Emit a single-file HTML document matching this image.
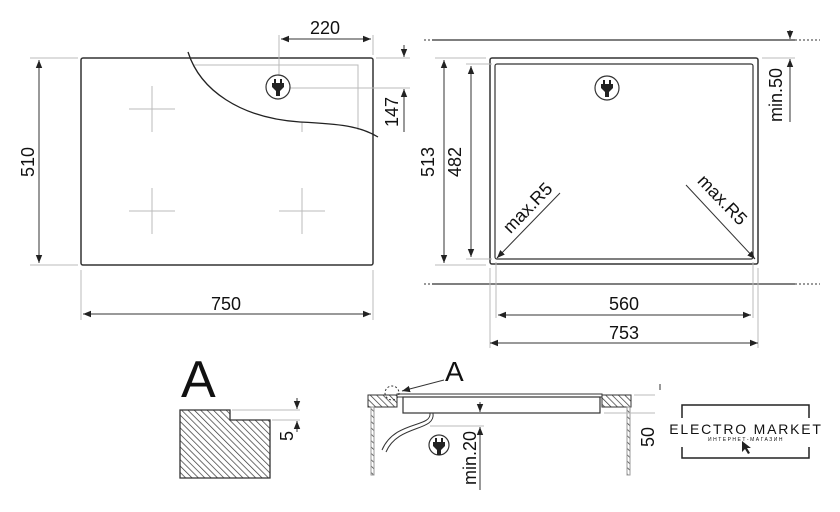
<!DOCTYPE html>
<html><head><meta charset="utf-8"><style>
html,body{margin:0;padding:0;background:#fff;}
svg{display:block;font-family:"Liberation Sans",sans-serif;}
</style></head><body>
<svg width="840" height="512" viewBox="0 0 840 512" xmlns="http://www.w3.org/2000/svg">
<defs>
<marker id="a" viewBox="0 0 10 10" refX="10" refY="5" markerWidth="8" markerHeight="8" orient="auto-start-reverse" markerUnits="userSpaceOnUse"><path d="M0,1 L10,5 L0,9 z" fill="#222"/></marker>
<pattern id="h" width="4.5" height="4.5" patternUnits="userSpaceOnUse" patternTransform="rotate(-45)"><line x1="0" y1="0" x2="0" y2="4.5" stroke="#333" stroke-width="1.4"/></pattern>
</defs>
<g fill="none" stroke="#333" stroke-width="1">
<rect x="81" y="58" width="292" height="207" rx="2" stroke-width="1.5"/>
<g stroke="#bbb">
<polyline points="193,65 358,65 358,130"/>
<line x1="129" y1="109" x2="175" y2="109"/><line x1="152" y1="86" x2="152" y2="132"/>
<line x1="129" y1="211" x2="175" y2="211"/><line x1="152" y1="188" x2="152" y2="234"/>
<line x1="279" y1="211" x2="325" y2="211"/><line x1="302" y1="188" x2="302" y2="234"/>
<line x1="302" y1="122" x2="302" y2="132"/>
<line x1="30" y1="58" x2="78" y2="58"/><line x1="30" y1="265" x2="78" y2="265"/>
<line x1="81" y1="270" x2="81" y2="320"/><line x1="373" y1="270" x2="373" y2="320"/>
<line x1="279" y1="35" x2="279" y2="76"/><line x1="373" y1="35" x2="373" y2="55"/>
<line x1="376" y1="58" x2="410" y2="58"/><line x1="290" y1="88" x2="410" y2="88"/>
</g>
<path d="M188,52 C200,90 240,118 300,122 C340,124 360,126 378,137" stroke="#222" stroke-width="1.3"/>
<line x1="39" y1="60" x2="39" y2="263" marker-start="url(#a)" marker-end="url(#a)"/>
<line x1="83" y1="314" x2="371" y2="314" marker-start="url(#a)" marker-end="url(#a)"/>
<line x1="281" y1="39" x2="371" y2="39" marker-start="url(#a)" marker-end="url(#a)"/>
<line x1="404" y1="45" x2="404" y2="57" marker-end="url(#a)"/>
<line x1="404" y1="132" x2="404" y2="89" marker-end="url(#a)"/>
<circle cx="278" cy="87" r="12" stroke-width="1.2"/>
<rect x="490" y="58" width="268" height="206" rx="2" stroke-width="1.5"/>
<rect x="495" y="64" width="258" height="195" rx="2" stroke-width="1.2"/>
<line x1="432" y1="40" x2="795" y2="40" stroke-width="1.2"/>
<line x1="432" y1="284" x2="795" y2="284" stroke-width="1.2"/>
<line x1="424" y1="40" x2="432" y2="40" stroke-dasharray="2,2"/><line x1="795" y1="40" x2="820" y2="40" stroke-dasharray="2,2"/>
<line x1="424" y1="284" x2="432" y2="284" stroke-dasharray="2,2"/><line x1="795" y1="284" x2="820" y2="284" stroke-dasharray="2,2"/>
<g stroke="#bbb">
<line x1="435" y1="58" x2="486" y2="58"/><line x1="435" y1="265" x2="486" y2="265"/>
<line x1="466" y1="64" x2="492" y2="64"/><line x1="466" y1="259" x2="492" y2="259"/>
<line x1="490" y1="268" x2="490" y2="348"/><line x1="758" y1="268" x2="758" y2="348"/>
<line x1="496" y1="262" x2="496" y2="318"/><line x1="753" y1="262" x2="753" y2="318"/>
<line x1="762" y1="58" x2="795" y2="58"/>
</g>
<line x1="444" y1="60" x2="444" y2="263" marker-start="url(#a)" marker-end="url(#a)"/>
<line x1="471" y1="66" x2="471" y2="257" marker-start="url(#a)" marker-end="url(#a)"/>
<line x1="790" y1="30" x2="790" y2="39" marker-end="url(#a)"/>
<line x1="790" y1="122" x2="790" y2="59" marker-end="url(#a)"/>
<line x1="498" y1="315" x2="751" y2="315" marker-start="url(#a)" marker-end="url(#a)"/>
<line x1="490" y1="343" x2="758" y2="343" marker-start="url(#a)" marker-end="url(#a)"/>
<line x1="560" y1="193" x2="497" y2="258" marker-end="url(#a)"/>
<line x1="686" y1="185" x2="755" y2="259" marker-end="url(#a)"/>
<circle cx="607" cy="88" r="12" stroke-width="1.2"/>
<path d="M180,410 L230,410 L230,420 L270,420 L270,478 L180,478 Z" fill="url(#h)" stroke-width="1.3"/>
<g stroke="#bbb"><line x1="232" y1="410" x2="300" y2="410"/><line x1="272" y1="420" x2="300" y2="420"/></g>
<line x1="297" y1="398" x2="297" y2="409" marker-end="url(#a)"/>
<line x1="297" y1="432" x2="297" y2="421" marker-end="url(#a)"/>
<rect x="368" y="395" width="29" height="12" fill="url(#h)"/>
<rect x="602" y="395" width="29" height="12" fill="url(#h)"/>
<rect x="397" y="394" width="205" height="3"/>
<rect x="403" y="397" width="197" height="16" stroke-width="1.2"/>
<rect x="371" y="407" width="3" height="68" fill="url(#h)" stroke="#999"/>
<rect x="627" y="407" width="3" height="68" fill="url(#h)" stroke="#999"/>
<path d="M430,413 C432,428 395,420 382,450" /><path d="M433,413 C436,432 398,424 386,452"/>
<g stroke="#bbb"><line x1="634" y1="395" x2="655" y2="395"/><line x1="604" y1="413" x2="655" y2="413"/><line x1="430" y1="426" x2="484" y2="426"/></g>
<line x1="480" y1="402" x2="480" y2="412" marker-end="url(#a)"/>
<line x1="480" y1="490" x2="480" y2="427" marker-end="url(#a)"/>
<circle cx="392" cy="393" r="7" stroke-dasharray="2,2"/>
<line x1="444" y1="380" x2="402" y2="391" marker-end="url(#a)"/>
<circle cx="439" cy="445" r="10" stroke-width="1.2"/>
<line x1="660" y1="384" x2="660" y2="390"/>
<polyline points="682,418 682,405 809,405 809,418" stroke="#222" stroke-width="1.5"/>
<polyline points="682,447 682,458 809,458 809,447" stroke="#222" stroke-width="1.5"/>
</g>
<g fill="#222">
<rect x="274" y="79" width="2" height="4"/><rect x="280" y="79" width="2" height="4"/><path d="M272,83 h12 v4 l-4,4 v5 h-4 v-5 l-4,-4z"/>
<rect x="603" y="80" width="2" height="4"/><rect x="609" y="80" width="2" height="4"/><path d="M601,84 h12 v4 l-4,4 v5 h-4 v-5 l-4,-4z"/>
<rect x="435" y="438" width="2" height="4"/><rect x="441" y="438" width="2" height="4"/><path d="M433,442 h12 v4 l-4,4 v5 h-4 v-5 l-4,-4z"/>
<path d="M742,441 l0,11 l3,-3 l3,5 l2,-1 l-3,-5 l4,0z"/>
</g>
<g fill="#111" font-size="18">
<text x="226" y="310" text-anchor="middle">750</text>
<text x="325" y="34" text-anchor="middle">220</text>
<text transform="translate(40,162) rotate(-90)" text-anchor="middle" dy="-6">510</text>
<text transform="translate(402,112) rotate(-90)" text-anchor="middle" dy="-4">147</text>
<text transform="translate(440,162) rotate(-90)" text-anchor="middle" dy="-6">513</text>
<text transform="translate(467,162) rotate(-90)" text-anchor="middle" dy="-6">482</text>
<text transform="translate(786,95) rotate(-90)" text-anchor="middle" dy="-4">min.50</text>
<text x="624" y="310" text-anchor="middle">560</text>
<text x="624" y="339" text-anchor="middle">753</text>
<text transform="translate(532,212) rotate(-46)" text-anchor="middle">max.R5</text>
<text transform="translate(718,204) rotate(46)" text-anchor="middle">max.R5</text>
<text transform="translate(293,436) rotate(-90)" text-anchor="middle">5</text>
<text transform="translate(476,458) rotate(-90)" text-anchor="middle">min.20</text>
<text transform="translate(654,437) rotate(-90)" text-anchor="middle">50</text>
<text x="181" y="397" font-size="52">A</text>
<text x="445" y="381" font-size="28">A</text>
<text x="746" y="434" font-size="14" letter-spacing="1.8" text-anchor="middle">ELECTRO MARKET</text>
<text x="746" y="441" font-size="5" letter-spacing="1.5" text-anchor="middle">ИНТЕРНЕТ-МАГАЗИН</text>
</g>
</svg>
</body></html>
